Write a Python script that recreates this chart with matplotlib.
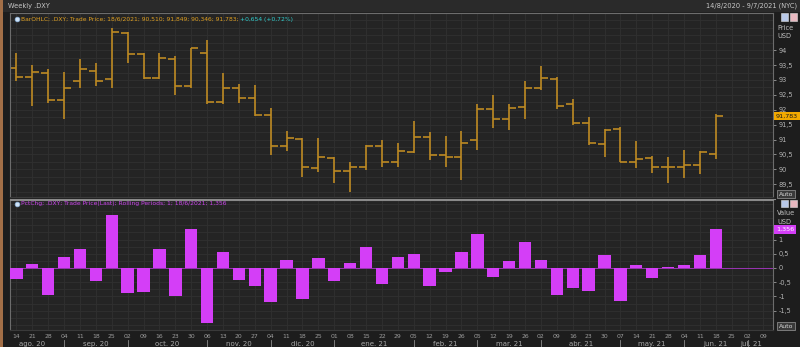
import matplotlib
matplotlib.use('Agg')
import matplotlib.pyplot as plt
import matplotlib.transforms as mtransforms
from matplotlib.patches import Rectangle
from matplotlib.lines import Line2D
from matplotlib.text import Annotation
from matplotlib.ticker import FuncFormatter, MultipleLocator

# ---------------- data ----------------
day_labels = ['14', '21', '28', '04', '11', '18', '25', '02', '09', '16', '23', '30',
              '06', '13', '20', '27', '04', '11', '18', '25', '01', '08', '15', '22', '29',
              '05', '12', '19', '26', '05', '12', '19', '26', '02', '09', '16', '23', '30',
              '07', '14', '21', '28', '04', '11', '18', '25', '02', '09']
month_labels = ['ago. 20', 'sep. 20', 'oct. 20', 'nov. 20', 'dic. 20', 'ene. 21',
                'feb. 21', 'mar. 21', 'abr. 21', 'may. 21', 'jun. 21', 'jul. 21']
month_start_idx = [0, 3, 7, 12, 16, 20, 25, 29, 33, 38, 42, 46]

opens = [93.41, 93.11, 93.25, 92.32, 92.96, 93.30, 93.02, 94.57, 93.88, 93.08,
         93.72, 92.80, 93.92, 92.25, 92.74, 92.40, 91.84, 90.79, 91.01, 90.03,
         90.37, 89.96, 90.09, 90.79, 90.26, 90.57, 91.08, 90.49, 90.41, 90.97,
         92.03, 91.69, 92.10, 92.74, 93.04, 92.18, 91.56, 90.86, 91.35, 90.26,
         90.37, 90.07, 90.09, 90.15, 90.510]
highs = [93.92, 93.49, 93.36, 93.27, 93.70, 93.58, 94.73, 94.62, 93.92, 93.92,
         93.79, 94.09, 94.35, 93.25, 92.85, 92.82, 92.06, 91.27, 91.05, 91.05,
         90.43, 90.26, 90.82, 90.97, 90.88, 91.63, 91.24, 91.11, 91.27, 92.18,
         92.51, 92.18, 92.96, 93.47, 93.11, 92.35, 91.76, 91.35, 91.42, 90.94,
         90.45, 90.43, 90.65, 90.63, 91.849]
lows = [92.96, 92.12, 92.23, 91.69, 92.74, 92.80, 92.74, 93.56, 93.04, 93.02,
        92.51, 92.74, 92.18, 92.18, 92.23, 91.78, 90.49, 90.63, 89.75, 89.92,
        89.53, 89.25, 89.98, 90.09, 90.09, 90.54, 90.32, 90.09, 89.64, 90.65,
        91.39, 91.33, 91.69, 92.68, 92.01, 91.50, 90.82, 90.43, 90.23, 90.03,
        89.87, 89.55, 89.70, 89.84, 90.346]
closes = [93.11, 93.27, 92.32, 92.74, 93.36, 92.96, 94.62, 93.88, 93.08, 93.75,
          92.80, 94.06, 92.25, 92.74, 92.40, 91.84, 90.77, 91.05, 90.09, 90.41,
          89.96, 90.09, 90.79, 90.26, 90.60, 91.08, 90.49, 90.43, 90.90, 92.01,
          91.69, 92.06, 92.74, 93.08, 92.14, 91.56, 90.88, 91.33, 90.26, 90.34,
          90.07, 90.09, 90.15, 90.57, 91.783]
pct_chg = [-0.37, 0.15, -0.94, 0.37, 0.65, -0.46, 1.85, -0.87, -0.84, 0.68,
           -0.98, 1.36, -1.93, 0.56, -0.42, -0.65, -1.19, 0.29, -1.08, 0.34,
           -0.44, 0.19, 0.74, -0.58, 0.39, 0.50, -0.64, -0.14, 0.56, 1.20,
           -0.33, 0.26, 0.91, 0.27, -0.94, -0.69, -0.81, 0.47, -1.16, 0.09,
           -0.35, 0.05, 0.12, 0.47, 1.356]
price_ticks = [89.5, 90, 90.5, 91, 91.5, 92, 92.5, 93, 93.5, 94]
pct_ticks = [-1.5, -1, -0.5, 0, 0.5, 1]

# ---------------- style ----------------
W, H = 800, 347
BG = '#1d1d1d'
PANEL = '#242424'
GRID = '#303030'
OHLC = '#bd8a22'
MAG = '#d43ef7'
TXT = '#b4b4b4'

fig = plt.figure(figsize=(W / 100, H / 100), dpi=100, facecolor=BG)

def fx(px):
    return px / W

def fy(py):
    return 1 - py / H

# top strip & left orange edge
fig.add_artist(Rectangle((0, fy(12)), 1, 12 / H, transform=fig.transFigure,
                         facecolor='#2a2a2a', edgecolor='none', zorder=0))
fig.add_artist(Rectangle((0, 0), fx(3), 1, transform=fig.transFigure,
                         facecolor='#a36f47', edgecolor='none', zorder=0))

L, R = 10, 773
ax1 = fig.add_axes([fx(L), fy(197), fx(R) - fx(L), (197 - 13) / H], facecolor=PANEL)
ax2 = fig.add_axes([fx(L), fy(330), fx(R) - fx(L), (330 - 200) / H], facecolor=PANEL)

xs = list(range(len(closes)))
n_ticks = len(day_labels)
XL = (-0.4, 47.6)

def comma(v, pos=None):
    return ('%g' % v).replace('.', ',')

for ax in (ax1, ax2):
    ax.set_xlim(*XL)
    ax.set_xticks(range(n_ticks))
    ax.grid(True, which='both', color=GRID, lw=0.6)
    ax.set_axisbelow(True)
    ax.yaxis.tick_right()
    ax.tick_params(axis='y', which='major', labelsize=4.8, colors=TXT, length=2.5,
                   width=0.5, pad=1.5)
    ax.tick_params(axis='y', which='minor', length=0)
    ax.tick_params(axis='x', length=0)
    for side, sp in ax.spines.items():
        sp.set_color('#6c6c6c')
        sp.set_linewidth(0.8)
    ax.yaxis.set_major_formatter(FuncFormatter(comma))

# ---------------- price panel ----------------
ax1.set_ylim(89.07, 95.25)
ax1.set_yticks(price_ticks)
ax1.yaxis.set_minor_locator(MultipleLocator(0.25))
ax1.tick_params(axis='x', labelbottom=False)
ax1.spines['bottom'].set_color('#3a3a3a')

tl = 0.44
ax1.vlines(xs, lows, highs, color=OHLC, lw=1.2)
ax1.hlines(opens, [x - tl for x in xs], xs, color=OHLC, lw=1.2)
ax1.hlines(closes, xs, [x + tl for x in xs], color=OHLC, lw=1.2)

trans1 = mtransforms.blended_transform_factory(ax1.transAxes, ax1.transData)
ax1.text(1.004, closes[-1], '91,783', transform=trans1,
         fontsize=4.6, color='#1a1a1a', ha='left', va='center',
         bbox=dict(boxstyle='square,pad=0.25', facecolor='#f2a900', edgecolor='none'))

# ---------------- pct change panel ----------------
ax2.set_ylim(-2.18, 2.39)
ax2.set_yticks(pct_ticks)
ax2.yaxis.set_minor_locator(MultipleLocator(0.25))
ax2.bar(xs, pct_chg, width=0.78, color=MAG, zorder=3)
ax2.axhline(0, color='#9a34b4', lw=0.7, zorder=2)
ax2.spines['top'].set_color('#8a8a8a')
ax2.spines['bottom'].set_color('#3a3a3a')
ax2.set_xticklabels(day_labels, fontsize=4.4, color='#9c9c9c')
ax2.tick_params(axis='x', pad=3)

trans2 = mtransforms.blended_transform_factory(ax2.transAxes, ax2.transData)
ax2.text(1.004, pct_chg[-1], '1,356', transform=trans2,
         fontsize=4.6, color='#ffffff', ha='left', va='center',
         bbox=dict(boxstyle='square,pad=0.25', facecolor=MAG, edgecolor='none'))

# month labels and separators
transm = mtransforms.blended_transform_factory(ax2.transData, fig.transFigure)
starts = month_start_idx
ends = month_start_idx[1:] + [46.4]
for i, (lab, s, e) in enumerate(zip(month_labels, starts, ends)):
    s0 = -1 if i == 0 else s
    ax2.text((s0 + e) / 2, fy(344), lab, transform=transm, fontsize=5.0,
             color='#a8a8a8', ha='center', va='center')
    if i > 0:
        ax2.plot([s, s], [fy(340), fy(347)], transform=transm, color='#8a8a8a',
                 lw=0.6, clip_on=False)

# ---------------- header / legends ----------------
fig.text(fx(8), fy(6), 'Weekly .DXY', fontsize=4.8, color='#c8c8c8', va='center')
fig.text(fx(797), fy(6), '14/8/2020 - 9/7/2021 (NYC)', fontsize=4.8, color='#c8c8c8',
         va='center', ha='right')

for py in (19, 204):
    fig.add_artist(Line2D([fx(17)], [fy(py)], marker='o', markersize=3.4,
                          markerfacecolor='#cfe3f7', markeredgecolor='#8fb5dd',
                          markeredgewidth=0.5, transform=fig.transFigure))

t1 = fig.text(fx(21), fy(19),
              'BarOHLC; .DXY; Trade Price; 18/6/2021; 90,510; 91,849; 90,346; 91,783; ',
              fontsize=4.3, color='#e0a020', va='center')
fig.add_artist(Annotation('+0,654 (+0,72%)', xy=(1, 0.5), xycoords=t1,
                          fontsize=4.3, color='#2fd0d0', va='center', ha='left'))
fig.text(fx(21), fy(204),
         'PctChg; .DXY; Trade Price(Last); Rolling Periods; 1; 18/6/2021; 1,356',
         fontsize=4.3, color='#cc44ee', va='center')

# right-side labels
for py, s in ((28, 'Price'), (36, 'USD'), (213, 'Value'), (222, 'USD')):
    fig.text(fx(777), fy(py), s, fontsize=4.8, color='#c0c0c0', va='center')

for py in (17, 203):
    fig.add_artist(Rectangle((fx(781), fy(py + 3.5)), fx(7), 7 / H,
                             transform=fig.transFigure, facecolor='#b8c8e8',
                             edgecolor='#dddddd', lw=0.4))
    fig.add_artist(Rectangle((fx(790), fy(py + 3.5)), fx(7), 7 / H,
                             transform=fig.transFigure, facecolor='#e8b8c0',
                             edgecolor='#dddddd', lw=0.4))

for py in (194, 326):
    fig.text(fx(786), fy(py), 'Auto', fontsize=4.4, color='#d8d8d8', va='center',
             ha='center', bbox=dict(boxstyle='square,pad=0.25', facecolor='#3a3a3a',
                                    edgecolor='#9a9a9a', lw=0.5))

# separator line between panels
fig.add_artist(Line2D([fx(L), fx(775)], [fy(198.5), fy(198.5)], color='#8a8a8a',
                      lw=0.8, transform=fig.transFigure))

fig.savefig('out.png', dpi=100, facecolor=BG)
